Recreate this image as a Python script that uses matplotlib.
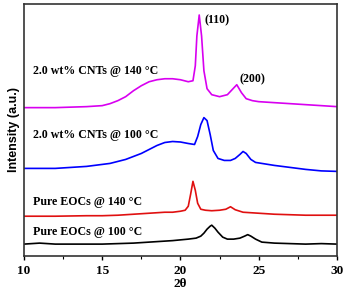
import matplotlib.pyplot as plt
from matplotlib.ticker import MultipleLocator

# 2theta / intensity pairs (intensity in arbitrary offset units)
eoc100_x = [10, 11, 12, 13, 14, 15, 16, 17, 18, 19, 19.5, 20.5, 21.0, 21.3, 21.5, 21.7, 21.9,
            22.0, 22.2, 22.4, 22.7, 23.0, 23.4, 23.8, 24.1, 24.3, 24.5, 24.8, 25.2, 26, 27, 28, 29, 30]
eoc100_y = [16, 17, 16, 16, 16, 16, 16.5, 17, 18, 19, 19.5, 21, 22, 24, 27, 31, 34,
            35, 32, 28, 23, 21, 21, 22, 24, 25.5, 24, 21, 18, 17, 16.5, 16, 16.5, 16]

eoc140_x = [10, 12, 14, 15, 16, 17, 18, 19, 19.5, 20.0, 20.3, 20.5, 20.65, 20.8, 20.95, 21.1,
            21.3, 21.6, 22.0, 22.5, 22.9, 23.2, 23.5, 24, 25, 26, 27, 28, 29, 30]
eoc140_y = [44, 44, 44.5, 44.5, 45, 46, 47, 48, 48, 49, 50, 54, 66, 79, 70, 57,
            51, 50, 49.5, 50, 51, 53.5, 50.5, 48, 47, 46, 45.5, 45, 45, 45]

cnt100_x = [10, 11, 12, 13, 14, 15, 15.5, 16, 16.5, 17, 17.5, 18, 18.5, 19, 19.5, 20, 20.5,
            20.9, 21.1, 21.3, 21.5, 21.7, 21.9, 22.1, 22.4, 22.8, 23.2, 23.5, 23.8, 24.0,
            24.2, 24.5, 24.8, 25.2, 26, 27, 28, 29, 30]
cnt100_y = [92, 92, 92, 93, 94, 96, 97, 99, 101, 104, 107, 111, 115, 118, 119, 118.5, 117,
            116, 124, 136, 143, 140, 126, 110, 102, 100, 100, 102, 106, 109,
            107, 101, 98, 97, 95, 93, 91, 89.5, 89]

cnt140_x = [10, 11, 12, 13, 14, 15, 15.5, 16, 16.5, 17, 17.5, 18, 18.5, 19, 19.5, 20, 20.5,
            20.8, 20.95, 21.05, 21.2, 21.35, 21.5, 21.7, 22.0, 22.5, 23.0, 23.3, 23.6, 23.9,
            24.2, 24.6, 25, 26, 27, 28, 29, 30]
cnt140_y = [153, 153, 153, 153.5, 154, 155, 157, 160, 164, 170, 175, 179, 181, 182, 182, 181, 179,
            180, 195, 225, 246, 225, 190, 172, 166, 164, 166, 171, 176, 168,
            162, 160, 159, 158, 157, 156, 155, 154]

series = [
    (eoc100_x, eoc100_y, "black", "Pure EOCs @ 100 °C", 28),
    (eoc140_x, eoc140_y, "#e01010", "Pure EOCs @ 140 °C", 58),
    (cnt100_x, cnt100_y, "#0000ff", "2.0 wt% CNTs @ 100 °C", 126),
    (cnt140_x, cnt140_y, "#d800f0", "2.0 wt% CNTs @ 140 °C", 190),
]
peaks = [("(110)", 21.55, 241), ("(200)", 23.75, 181)]

serif = "Liberation Serif"

fig = plt.figure(figsize=(3.47, 2.95), dpi=100)
ax = fig.add_axes([0.069, 0.132, 0.902, 0.856])

for xs, ys, color, label, ly in series:
    ax.plot(xs, ys, color=color, lw=1.2)
    ax.text(10.55, ly, label, fontfamily=serif, fontweight="bold", fontsize=8.6,
            ha="left", va="center")

for txt, px, py in peaks:
    ax.text(px, py, txt, fontfamily=serif, fontweight="bold", fontsize=8.6,
            ha="left", va="center")

ax.set_xlim(10, 30)
ax.set_ylim(4, 257.5)
ax.set_yticks([])
ax.xaxis.set_major_locator(MultipleLocator(5))
ax.xaxis.set_minor_locator(MultipleLocator(2.5))
ax.tick_params(axis="x", which="major", direction="out", length=3, width=1, pad=3.5)
ax.tick_params(axis="x", which="minor", direction="out", length=2.2, width=0.8)
for lab in ax.get_xticklabels():
    lab.set_fontfamily(serif)
    lab.set_fontweight("bold")
    lab.set_fontsize(9.5)
for sp in ax.spines.values():
    sp.set_linewidth(1.2)
    sp.set_color("#333333")

ax.set_xlabel("2θ", fontfamily=serif, fontweight="bold", fontsize=9.5, labelpad=0.5)
ax.set_ylabel("Intensity (a.u.)", fontfamily="Liberation Sans", fontweight="bold",
              fontsize=9, labelpad=3)

fig.savefig("out.png", dpi=100)
